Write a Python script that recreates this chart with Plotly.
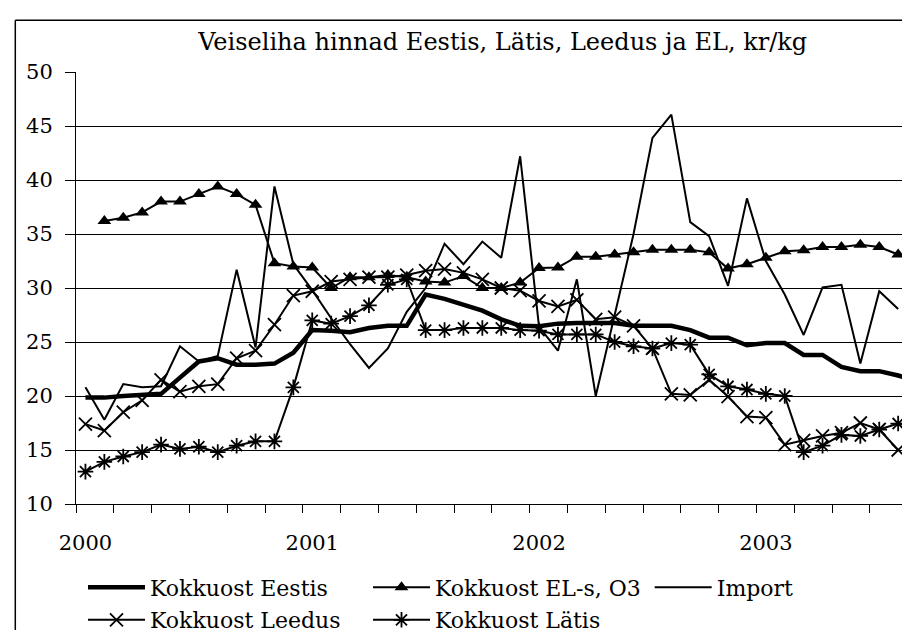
import plotly.graph_objects as go

# ---------------- data ----------------
months = [f"{y}-{m:02d}" for y in range(2000, 2004) for m in range(1, 13)][:45]

eestis = [19.85, 19.85, 20.0, 20.05, 20.2, 21.7, 23.2, 23.5, 22.9, 22.9, 23.0, 24.0,
          26.1, 26.05, 25.9, 26.3, 26.5, 26.5, 29.4, 29.0, 28.4, 27.9, 27.1, 26.5,
          26.45, 26.7, 26.75, 26.75, 26.75, 26.5, 26.5, 26.5, 26.1, 25.4, 25.4, 24.7,
          24.9, 24.9, 23.8, 23.8, 22.7, 22.3, 22.3, 21.9, 21.35]

el_o3 = [None, 36.2, 36.5, 37.0, 38.0, 38.0, 38.7, 39.4, 38.7, 37.7, 32.3, 32.0,
         31.9, 30.0, 31.0, 31.0, 31.2, 31.0, 30.6, 30.5, 31.1, 30.0, 30.0, 30.5,
         31.85, 31.9, 32.9, 32.9, 33.1, 33.3, 33.55, 33.55, 33.55, 33.3, 31.8, 32.2,
         32.8, 33.4, 33.5, 33.8, 33.8, 34.0, 33.8, 33.1, None]

import_price = [20.8, 17.8, 21.1, 20.8, 20.9, 24.6, 23.2, 23.7, 31.7, 24.5, 39.4, 32.2,
                29.8, 27.2, 24.8, 22.6, 24.4, 27.8, 30.0, 34.1, 32.2, 34.3, 32.8, 42.2,
                26.4, 24.2, 30.8, 20.0, 27.5, 35.0, 43.9, 46.05, 36.1, 34.8, 30.2, 38.3,
                32.5, 29.4, 25.65, 30.05, 30.3, 23.0, 29.7, 28.05, None]

leedus = [17.4, 16.8, 18.5, 19.6, 21.5, 20.4, 20.9, 21.1, 23.5, 24.2, 26.6, 29.3,
          29.7, 30.6, 30.8, 31.0, 31.0, 31.2, 31.6, 31.75, 31.4, 30.8, 30.0, 29.75,
          28.8, 28.3, 28.9, 27.1, 27.3, 26.5, 24.4, 20.2, 20.1, 21.5, 19.95, 18.1,
          18.0, 15.5, 15.9, 16.3, 16.6, 17.5, 16.9, 15.0, None]

latis = [13.0, 13.9, 14.4, 14.8, 15.5, 15.1, 15.3, 14.8, 15.4, 15.8, 15.8, 20.8,
         27.0, 26.7, 27.4, 28.4, 30.3, 30.8, 26.1, 26.1, 26.3, 26.3, 26.3, 26.1,
         26.05, 25.7, 25.7, 25.7, 25.0, 24.6, 24.4, 24.9, 24.75, 22.0, 20.9, 20.6,
         20.2, 20.0, 14.8, 15.4, 16.4, 16.3, 16.9, 17.45, 17.2]

year_labels = ["2000", "2001", "2002", "2003"]
y_ticks = [10, 15, 20, 25, 30, 35, 40, 45, 50]

# ---------------- figure ----------------
x = list(range(len(months)))
FONT = "DejaVu Serif, serif"
W, H = 910, 630
L, T, B = 68, 64, 134
PW, PH = W - L, H - T - B

fig = go.Figure()
fig.add_trace(go.Scatter(x=x, y=eestis, name="Kokkuost Eestis", mode="lines",
                         line=dict(color="black", width=4.5), legend="legend"))
fig.add_trace(go.Scatter(x=x, y=el_o3, name="Kokkuost EL-s, O3", mode="lines+markers",
                         line=dict(color="black", width=2),
                         marker=dict(symbol="triangle-up", size=12, color="black"),
                         legend="legend2"))
fig.add_trace(go.Scatter(x=x, y=import_price, name="Import", mode="lines",
                         line=dict(color="black", width=2), legend="legend3"))
fig.add_trace(go.Scatter(x=x, y=leedus, name="Kokkuost Leedus", mode="lines+markers",
                         line=dict(color="black", width=2),
                         marker=dict(symbol="x-thin-open", size=13, color="black",
                                     line=dict(color="black", width=1.8)),
                         legend="legend4"))
fig.add_trace(go.Scatter(x=x, y=latis, name="Kokkuost Lätis", mode="lines+markers",
                         line=dict(color="black", width=2),
                         marker=dict(symbol="asterisk-open", size=13, color="black",
                                     line=dict(color="black", width=1.8)),
                         legend="legend5"))

year_pos = [months.index(f"{y}-01") for y in year_labels]
minor_pos = [k - 0.5 for k in range(0, len(months) + 1, 2)]

leg_common = dict(orientation="v", xref="container", yref="container",
                  xanchor="left", yanchor="top",
                  itemwidth=57, bgcolor="rgba(0,0,0,0)", borderwidth=0,
                  tracegroupgap=0, font=dict(family=FONT, size=22, color="black"))
row1_top = 1 - 558.5 / H
row2_top = 1 - 591 / H

fig.update_layout(
    width=W, height=H,
    margin=dict(l=L, r=0, t=T, b=B, autoexpand=False),
    paper_bgcolor="white", plot_bgcolor="white",
    font=dict(family=FONT, size=21, color="black"),
    title=dict(text="Veiseliha hinnad Eestis, Lätis, Leedus ja EL, kr/kg",
               font=dict(family=FONT, size=24, color="black"),
               xref="container", x=494.7 / W, xanchor="center",
               yref="container", y=1 - 34 / H, yanchor="middle"),
    xaxis=dict(range=[-0.5, 44.05], tickmode="array", tickvals=year_pos,
               ticktext=year_labels, ticks="", showgrid=False, zeroline=False,
               showline=True, linecolor="black", linewidth=1,
               ticklabelstandoff=20,
               tickfont=dict(family=FONT, size=21, color="black"),
               minor=dict(tickmode="array", tickvals=minor_pos, ticks="outside",
                          ticklen=8, tickcolor="black", tickwidth=1, showgrid=False)),
    yaxis=dict(range=[10, 50], tickmode="array", tickvals=y_ticks,
               ticks="outside", ticklen=10, tickcolor="black", tickwidth=1,
               showgrid=True, gridcolor="black", gridwidth=1, zeroline=False,
               showline=True, linecolor="black", linewidth=1,
               ticklabelstandoff=8,
               tickfont=dict(family=FONT, size=21, color="black")),
    showlegend=True,
    legend=dict(leg_common, x=75 / W, y=row1_top),
    legend2=dict(leg_common, x=360 / W, y=row1_top),
    legend3=dict(leg_common, x=641.7 / W, y=row1_top),
    legend4=dict(leg_common, x=75 / W, y=row2_top),
    legend5=dict(leg_common, x=360 / W, y=row2_top),
    shapes=[
        dict(type="line", xref="paper", yref="paper",
             x0=(7.3 - L) / PW, x1=(7.3 - L) / PW,
             y0=-(B + 5) / PH, y1=(H - B - 12.3) / PH,
             line=dict(color="black", width=1.5)),
        dict(type="line", xref="paper", yref="paper",
             x0=(7.3 - L) / PW, x1=1.02,
             y0=(H - B - 12.3) / PH, y1=(H - B - 12.3) / PH,
             line=dict(color="black", width=1.5)),
    ],
)

fig.write_html("out.html")
